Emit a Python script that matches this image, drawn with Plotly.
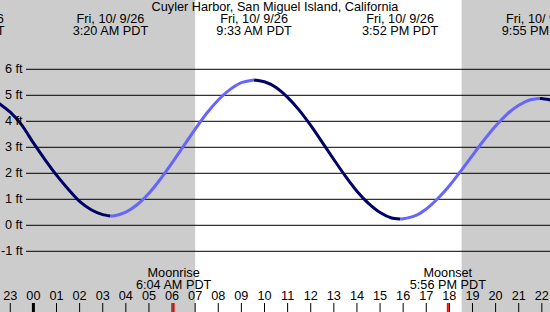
import plotly.graph_objects as go

# ---------------- data ----------------
title = "Cuyler Harbor, San Miguel Island, California"

# tide curve (hours from midnight Fri 10/9, feet)
curve_t = [-1.5, -1.0, -0.5, 0.0, 0.5, 1.0, 1.5, 2.0, 2.5, 3.0, 3.333,
           3.5, 4.0, 4.5, 5.0, 5.5, 6.0, 6.5, 7.0, 7.5, 8.0, 8.5, 9.0, 9.55,
           10.0, 10.5, 11.0, 11.5, 12.0, 12.5, 13.0, 13.5, 14.0, 14.5, 15.0, 15.5, 15.867,
           16.0, 16.5, 17.0, 17.5, 18.0, 18.5, 19.0, 19.5, 20.0, 20.5, 21.0, 21.5, 21.917,
           22.0, 22.5]
curve_h = [4.70, 4.35, 3.85, 3.17, 2.53, 1.93, 1.40, 0.92, 0.60, 0.41, 0.36,
           0.37, 0.51, 0.80, 1.23, 1.78, 2.40, 3.05, 3.70, 4.31, 4.82, 5.22, 5.49, 5.59,
           5.52, 5.30, 4.92, 4.43, 3.84, 3.19, 2.53, 1.89, 1.31, 0.84, 0.49, 0.28, 0.24,
           0.25, 0.36, 0.63, 1.03, 1.52, 2.09, 2.69, 3.28, 3.82, 4.28, 4.62, 4.83, 4.88,
           4.88, 4.80]

# tide extremes
event_t = [-2.9, 3.333, 9.55, 15.867, 21.917]
event_type = ["H", "L", "H", "L", "H"]
event_date = ["Thu, 10/ 8/26", "Fri, 10/ 9/26", "Fri, 10/ 9/26", "Fri, 10/ 9/26", "Fri, 10/ 9/26"]
event_clock = ["9:06 PM PDT", "3:20 AM PDT", "9:33 AM PDT", "3:52 PM PDT", "9:55 PM PDT"]

# sun / moon
sunrise_t = 7.0
sunset_t = 18.53
moon_t = [6.067, 17.933]
moon_name = ["Moonrise", "Moonset"]
moon_clock = ["6:04 AM PDT", "5:56 PM PDT"]

# axes
hour_ticks = list(range(-1, 23))
feet_ticks = [-1, 0, 1, 2, 3, 4, 5, 6]

# ---------------- layout helpers (pixel geometry) ----------------
W, H = 550, 312
MID_PX, PX_PER_H = 33.4, 23.11
ZERO_PX, PX_PER_FT = 225.3, 26.0


def t_of(px):
    return (px - MID_PX) / PX_PER_H


def ft_of(py):
    return (ZERO_PX - py) / PX_PER_FT


x_range = [t_of(0), t_of(W)]
y_range = [ft_of(H), ft_of(0)]

DARK = "#000066"
LIGHT = "#6666ff"
FONT = dict(family="Liberation Sans, Arial, sans-serif", size=12.7, color="#000000")

fig = go.Figure()

# tide curve split at extremes: falling = dark, rising = light
bounds = [x_range[0] - 5] + event_t + [x_range[1] + 5]
next_type = event_type + ["L"]
for i in range(len(bounds) - 1):
    a, b = bounds[i], bounds[i + 1]
    seg = [(t, h) for t, h in zip(curve_t, curve_h) if a <= t <= b]
    if len(seg) < 2:
        continue
    color = DARK if next_type[i] == "L" else LIGHT
    fig.add_trace(go.Scatter(
        x=[s[0] for s in seg], y=[s[1] for s in seg], mode="lines",
        line=dict(color=color, width=3, shape="spline", smoothing=0.6),
        hoverinfo="skip", cliponaxis=True))

shapes = []
# night shading
shapes.append(dict(type="rect", xref="x", yref="paper", x0=x_range[0] - 5, x1=sunrise_t,
                   y0=0, y1=1, fillcolor="#cccccc", line=dict(width=0), layer="below"))
shapes.append(dict(type="rect", xref="x", yref="paper", x0=sunset_t, x1=x_range[1] + 5,
                   y0=0, y1=1, fillcolor="#cccccc", line=dict(width=0), layer="below"))
# grid lines
for f in feet_ticks:
    shapes.append(dict(type="line", xref="x", yref="y", x0=t_of(26), x1=x_range[1] + 5,
                       y0=f, y1=f, line=dict(color="#000000", width=1), layer="below"))
# hour ticks
for h in hour_ticks:
    shapes.append(dict(type="line", xref="x", yref="y", x0=h, x1=h,
                       y0=ft_of(303), y1=ft_of(H + 2),
                       line=dict(color="#000000", width=3 if h % 24 == 0 else 1)))
for mt in moon_t:
    shapes.append(dict(type="line", xref="x", yref="y", x0=mt, x1=mt,
                       y0=ft_of(303), y1=ft_of(H + 2),
                       line=dict(color="#ff0000", width=2)))


def text_row(xs, texts, py):
    fig.add_trace(go.Scatter(
        x=xs, y=[ft_of(py)] * len(xs), mode="text", text=texts,
        textposition="middle center", textfont=FONT, hoverinfo="skip", cliponaxis=True))


# header
text_row([(x_range[0] + x_range[1]) / 2], [title], 8)
text_row(event_t, event_date, 20)
text_row(event_t, event_clock, 31.5)
# moon labels
text_row(moon_t, moon_name, 274)
text_row(moon_t, moon_clock, 285.5)
# hour labels
text_row(hour_ticks, [f"{h % 24:02d}" for h in hour_ticks], 297)

annotations = []
for f in feet_ticks:
    annotations.append(dict(x=t_of(25), y=f, xref="x", yref="y", text=f"{f} ft",
                            showarrow=False, xanchor="right", yanchor="middle", font=FONT))

fig.update_layout(
    width=W, height=H, autosize=False,
    margin=dict(l=0, r=0, t=0, b=0, pad=0),
    paper_bgcolor="#ffffff", plot_bgcolor="#ffffff",
    showlegend=False, hovermode=False,
    xaxis=dict(range=x_range, visible=False, fixedrange=True),
    yaxis=dict(range=y_range, visible=False, fixedrange=True),
    shapes=shapes, annotations=annotations,
)

fig.write_html("out.html", config=dict(displayModeBar=False))
